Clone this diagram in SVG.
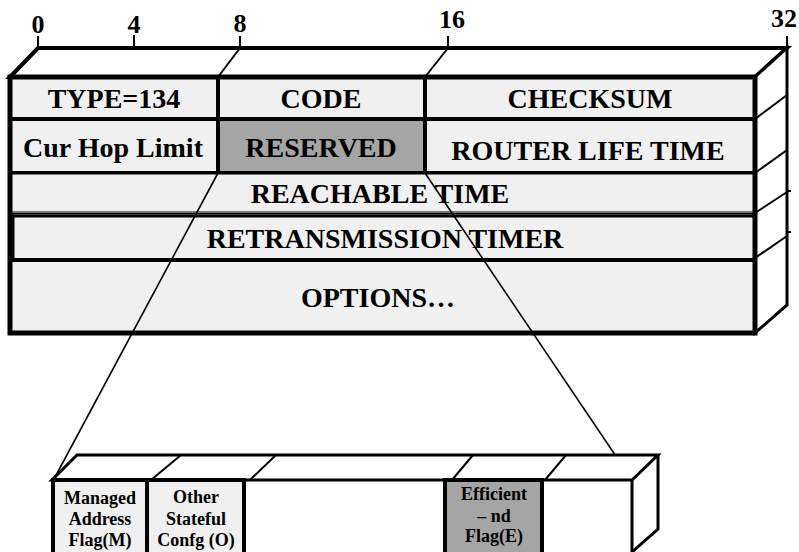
<svg xmlns="http://www.w3.org/2000/svg" width="799" height="552" viewBox="0 0 799 552">
<style>
.t{font-family:"Liberation Serif","Times New Roman",serif;font-weight:bold;text-anchor:middle;fill:#000}
.big{font-size:28px}
.num{font-size:26px}
.sm{font-size:18px}
.cell{fill:#f0f0f0;stroke:#000;stroke-width:4}
.gray{fill:#a5a5a5;stroke:#000;stroke-width:4}
.edge{fill:none;stroke:#000;stroke-width:3;stroke-linejoin:miter}
.thin{fill:none;stroke:#000;stroke-width:2}
.zoom{fill:none;stroke:#000;stroke-width:1.6}
</style>
<rect width="799" height="552" fill="#fff"/>
<g id="scale">
<line class="thin" x1="38" y1="36" x2="38" y2="48"/>
<line class="thin" x1="134" y1="35" x2="134" y2="48"/>
<line class="thin" x1="240" y1="36" x2="240" y2="48"/>
<line class="thin" x1="448" y1="36" x2="448" y2="48"/>
<line class="thin" x1="787" y1="36" x2="787" y2="48"/>
<text class="t num" x="38" y="33">0</text>
<text class="t num" x="134" y="33">4</text>
<text class="t num" x="240" y="32">8</text>
<text class="t num" x="452" y="28">16</text>
<text class="t num" x="784" y="27">32</text>
</g>
<g id="main-box">
<polygon points="10,77 38,48 787,48 755,77" fill="#fff" stroke="#000" stroke-width="4" stroke-linejoin="miter"/>
<line class="thin" x1="240" y1="48" x2="218" y2="77"/>
<line class="thin" x1="448" y1="48" x2="425" y2="77"/>
<polygon points="755,77 787,48 787,305 755,333" fill="#fff" stroke="#000" stroke-width="3"/>
<line class="thin" x1="755" y1="119" x2="787" y2="95"/>
<line class="thin" x1="755" y1="173" x2="787" y2="150"/>
<line class="thin" x1="755" y1="213" x2="787" y2="192"/>
<line class="thin" x1="755" y1="258" x2="787" y2="236"/>
<line class="thin" x1="787" y1="191" x2="791" y2="191"/>
<line class="thin" x1="787" y1="232" x2="791" y2="232"/>
</g>
<g id="type"><rect class="cell" x="10" y="77" width="208" height="42"/><text class="t big" x="114" y="108">TYPE=134</text></g>
<g id="code"><rect class="cell" x="218" y="77" width="207" height="42"/><text class="t big" x="321" y="108">CODE</text></g>
<g id="checksum"><rect class="cell" x="425" y="77" width="330" height="42"/><text class="t big" x="590" y="108">CHECKSUM</text></g>
<g id="cur-hop-limit"><rect class="cell" x="10" y="119" width="208" height="54"/><text class="t big" x="113" y="157">Cur Hop Limit</text></g>
<g id="reserved"><rect class="gray" x="218" y="119" width="207" height="54"/><text class="t big" x="321" y="157">RESERVED</text></g>
<g id="router-life-time"><rect class="cell" x="425" y="119" width="330" height="54"/><text class="t big" x="588" y="160">ROUTER LIFE TIME</text></g>
<g id="reachable-time"><rect x="10" y="173" width="745" height="40" fill="#f0f0f0" stroke="#000" stroke-width="3"/><line x1="10" y1="212" x2="755" y2="212" stroke="#777" stroke-width="2"/><text class="t big" x="380" y="203">REACHABLE TIME</text></g>
<g id="retransmission-timer"><rect x="12" y="216" width="743" height="44" fill="#f0f0f0" stroke="#000" stroke-width="3"/><line x1="12" y1="216" x2="12" y2="260" stroke="#000" stroke-width="5"/><text class="t big" x="385" y="248">RETRANSMISSION TIMER</text></g>
<g id="options"><rect class="cell" x="10" y="260" width="745" height="73"/><text class="t big" x="378" y="307">OPTIONS…</text></g>
<rect x="10" y="77" width="745" height="256" fill="none" stroke="#000" stroke-width="5"/>
<g id="connectors">
<line class="zoom" x1="218" y1="173" x2="54" y2="479"/>
<line class="zoom" x1="425" y1="173" x2="632" y2="480"/>
</g>
<g id="flags-box">
<polygon points="52,480 77,455 658,455 632,480" fill="#fff" stroke="#000" stroke-width="3"/>
<line class="thin" x1="181" y1="455" x2="151" y2="480"/>
<line class="thin" x1="276" y1="455" x2="250" y2="480"/>
<line class="thin" x1="473" y1="455" x2="452" y2="480"/>
<line class="thin" x1="566" y1="455" x2="545" y2="480"/>
<polyline class="edge" points="632,480 632,560"/>
<polyline class="edge" points="658,455 658,529 632,552"/>
</g>
<g id="flag-m"><rect class="cell" x="53" y="480" width="94" height="80"/><text class="t sm" x="100" y="504">Managed</text><text class="t sm" x="100" y="525">Address</text><text class="t sm" x="100" y="546">Flag(M)</text></g>
<g id="flag-o"><rect class="cell" x="147" y="480" width="97" height="80"/><text class="t sm" x="196" y="503">Other</text><text class="t sm" x="196" y="525">Stateful</text><text class="t sm" x="196" y="546">Confg (O)</text></g>
<g id="flag-e"><rect class="gray" x="445" y="480" width="97" height="80"/><text class="t sm" x="494" y="500">Efficient</text><text class="t sm" x="494" y="522">– nd</text><text class="t sm" x="494" y="542">Flag(E)</text></g>
</svg>
